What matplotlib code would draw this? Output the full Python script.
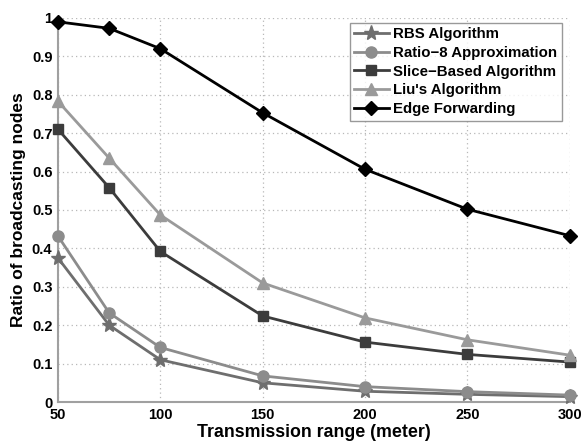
import matplotlib
matplotlib.use("Agg")
import matplotlib.pyplot as plt

plt.rcParams['font.family'] = ['Liberation Sans', 'DejaVu Sans']
plt.rcParams['font.weight'] = 'bold'

ranges = [50, 75, 100, 150, 200, 250, 300]
rbs = [0.375, 0.200, 0.110, 0.050, 0.028, 0.020, 0.014]
ratio8 = [0.432, 0.232, 0.142, 0.068, 0.040, 0.027, 0.018]
slice_based = [0.710, 0.558, 0.392, 0.224, 0.156, 0.124, 0.104]
liu = [0.783, 0.635, 0.487, 0.310, 0.219, 0.162, 0.122]
edge_fwd = [0.990, 0.973, 0.920, 0.753, 0.606, 0.502, 0.433]

series = [
    ("RBS Algorithm", rbs, '*', '#6e6e6e', 11),
    ("Ratio\u22128 Approximation", ratio8, 'o', '#8c8c8c', 8),
    ("Slice\u2212Based Algorithm", slice_based, 's', '#3c3c3c', 7),
    ("Liu's Algorithm", liu, '^', '#9a9a9a', 8.5),
    ("Edge Forwarding", edge_fwd, 'D', '#000000', 7.5),
]

fig = plt.figure(figsize=(5.82, 4.45), dpi=100)
ax = fig.add_axes([0.0997, 0.0966, 0.8793, 0.863])

for label, vals, mk, col, ms in series:
    ax.plot(ranges, vals, marker=mk, color=col, markerfacecolor=col,
            markeredgecolor=col, markersize=ms, linewidth=2, label=label,
            clip_on=False, zorder=3)

ax.set_xlim(50, 300)
ax.set_ylim(0, 1)
ax.set_xticks([50, 100, 150, 200, 250, 300])
ax.set_yticks([i / 10 for i in range(11)])
ax.set_yticklabels(['0', '0.1', '0.2', '0.3', '0.4', '0.5', '0.6', '0.7', '0.8', '0.9', '1'])
ax.tick_params(labelsize=10.5, length=0, pad=4, colors='black')
for lab in ax.get_xticklabels() + ax.get_yticklabels():
    lab.set_fontweight('bold')

ax.grid(True, linestyle=(0, (1, 2.5)), color='#b8b8b8', linewidth=0.9)
ax.set_axisbelow(True)
for side in ('top', 'right'):
    ax.spines[side].set_visible(False)
for side in ('left', 'bottom'):
    ax.spines[side].set_color('#a0a0a0')
    ax.spines[side].set_linewidth(1.5)

ax.set_xlabel('Transmission range (meter)', fontsize=12.8, fontweight='bold', labelpad=2)
ax.set_ylabel('Ratio of broadcasting nodes', fontsize=12.5, fontweight='bold', labelpad=4)

leg = ax.legend(loc='upper right', bbox_to_anchor=(0.99, 0.996), fontsize=10.8,
                frameon=True, fancybox=False, handlelength=2.3, handletextpad=0.3,
                borderpad=0.3, labelspacing=0.32, borderaxespad=0.2)
leg.get_frame().set_edgecolor('#808080')
leg.get_frame().set_linewidth(1.0)
for t in leg.get_texts():
    t.set_fontweight('bold')

fig.savefig('out.png', dpi=100)
